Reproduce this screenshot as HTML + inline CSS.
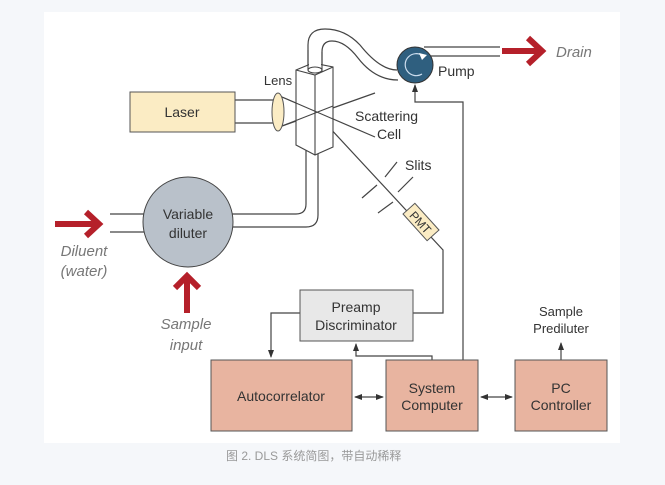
<!DOCTYPE html>
<html><head><meta charset="utf-8"><style>
html,body{margin:0;padding:0;background:#f5f7fa;}
svg{display:block;font-family:"Liberation Sans","Noto Sans CJK SC",sans-serif;}
</style></head><body>
<svg width="665" height="485" viewBox="0 0 665 485" xmlns="http://www.w3.org/2000/svg">
<defs>
<marker id="a" markerWidth="8" markerHeight="8" refX="7" refY="4" orient="auto" markerUnits="userSpaceOnUse"><path d="M0,1 L8,4 L0,7 Z" fill="#333"/></marker>
<marker id="b" markerWidth="8" markerHeight="8" refX="1" refY="4" orient="auto" markerUnits="userSpaceOnUse"><path d="M8,1 L0,4 L8,7 Z" fill="#333"/></marker>
</defs>
<rect x="0" y="0" width="665" height="485" fill="#f5f7fa"/>
<rect x="44" y="12" width="576" height="431" fill="#fff"/>
<g stroke="#444" stroke-width="1.2" fill="none">
<!-- tube top -->
<path d="M308,70 L308,45 Q308,29 325,29 Q345,29 360,45 Q380,70 397,70"/>
<path d="M322,72 L322,52 Q322,41 332,41 Q345,41 358,58 Q375,80 398,80"/>
<!-- drain tubes -->
<path d="M424,47 L500,47 M430,56 L500,56"/>
<!-- diluter tubes -->
<path d="M110,214 L146,214 M110,232 L146,232"/>
<path d="M232,214 L296,214 Q306,214 306,204 L306,150"/>
<path d="M232,227 L306,227 Q318,227 318,215 L318,152"/>
<!-- laser beam -->
<path d="M235,100 L275,100 M235,123 L275,123"/>
<!-- rays -->
<path d="M282,97 L375,137 M282,126 L375,93 M315,112 L443,250 L443,313 L413,313"/>
<!-- slits -->
<path d="M397,162 L385,177 M413,177 L398,192 M377,185 L362,198 M393,202 L378,213"/>
<!-- pump feedback -->
<path d="M463,360 L463,102 L415,102 L415,85" marker-end="url(#a)"/>
<!-- preamp to autocorrelator -->
<path d="M300,313 L271,313 L271,357" marker-end="url(#a)"/>
<path d="M432,360 L432,356 L356,356 L356,344" marker-end="url(#a)"/>
<path d="M355,397 L383,397" marker-start="url(#b)" marker-end="url(#a)"/>
<path d="M481,397 L512,397" marker-start="url(#b)" marker-end="url(#a)"/>
<path d="M561,360 L561,343" marker-end="url(#a)"/>
</g>
<!-- cell -->
<g stroke="#444" stroke-width="1.1" fill="#fff">
<polygon points="296,70 313,63 333,67 333,147 315,155 296,145"/>
<path d="M296,70 L315,75 L333,67 M315,75 L315,155" fill="none"/>
<rect x="309" y="50" width="12" height="22" stroke="none"/>
<path d="M308,70 L308,50 M322,72 L322,52" fill="none"/>
<ellipse cx="315" cy="70" rx="7" ry="3" fill="#fff"/>
</g>
<path d="M296,112 L333,112" stroke="none"/>
<line x1="282" y1="97" x2="333" y2="119" stroke="#444" stroke-width="1"/>
<line x1="282" y1="126" x2="333" y2="106" stroke="#444" stroke-width="1"/>
<!-- laser, lens -->
<rect x="130" y="92" width="105" height="40" fill="#fbecc4" stroke="#555"/>
<text x="182" y="117" font-size="14" fill="#333" text-anchor="middle">Laser</text>
<ellipse cx="278" cy="112" rx="6" ry="19" fill="#fbecc4" stroke="#555"/>
<text x="278" y="85" font-size="13" fill="#333" text-anchor="middle">Lens</text>
<text x="355" y="121" font-size="14" fill="#333">Scattering</text>
<text x="377" y="139" font-size="14" fill="#333">Cell</text>
<text x="405" y="170" font-size="14" fill="#333">Slits</text>
<!-- PMT -->
<g transform="translate(421,222) rotate(48)">
<rect x="-18" y="-8" width="36" height="16" fill="#fbecc4" stroke="#555"/>
<text x="0" y="5" font-size="12" fill="#333" text-anchor="middle">PMT</text>
</g>
<!-- pump -->
<circle cx="415" cy="65" r="18" fill="#2f5f7f" stroke="#333"/>
<path d="M423,56 A11,11 0 1 0 422,74" stroke="#cde" stroke-width="1.2" fill="none"/>
<path d="M419,53 L427,55 L422,60 Z" fill="#fff"/>
<text x="438" y="76" font-size="14" fill="#333">Pump</text>
<!-- drain -->
<path d="M502,51 L538,51" stroke="#b5202a" stroke-width="6"/>
<path d="M528,38 L542,51 L528,64" stroke="#b5202a" stroke-width="6" fill="none"/>
<text x="556" y="57" font-size="15" font-style="italic" fill="#777">Drain</text>
<!-- diluter -->
<circle cx="188" cy="222" r="45" fill="#b9c1ca" stroke="#444"/>
<text x="188" y="219" font-size="14" fill="#333" text-anchor="middle">Variable</text>
<text x="188" y="238" font-size="14" fill="#333" text-anchor="middle">diluter</text>
<path d="M55,224 L96,224" stroke="#b5202a" stroke-width="6"/>
<path d="M86,212 L99,224 L86,236" stroke="#b5202a" stroke-width="6" fill="none"/>
<text x="84" y="256" font-size="15" font-style="italic" fill="#777" text-anchor="middle">Diluent</text>
<text x="84" y="276" font-size="15" font-style="italic" fill="#777" text-anchor="middle">(water)</text>
<path d="M187,313 L187,278" stroke="#b5202a" stroke-width="6"/>
<path d="M175,288 L187,276 L199,288" stroke="#b5202a" stroke-width="6" fill="none"/>
<text x="186" y="329" font-size="15" font-style="italic" fill="#777" text-anchor="middle">Sample</text>
<text x="186" y="350" font-size="15" font-style="italic" fill="#777" text-anchor="middle">input</text>
<!-- preamp -->
<rect x="300" y="290" width="113" height="51" fill="#e8e8e8" stroke="#555"/>
<text x="356" y="312" font-size="14" fill="#333" text-anchor="middle">Preamp</text>
<text x="356" y="330" font-size="14" fill="#333" text-anchor="middle">Discriminator</text>
<!-- boxes -->
<rect x="211" y="360" width="141" height="71" fill="#e8b4a0" stroke="#555"/>
<text x="281" y="401" font-size="14" fill="#333" text-anchor="middle">Autocorrelator</text>
<rect x="386" y="360" width="92" height="71" fill="#e8b4a0" stroke="#555"/>
<text x="432" y="393" font-size="14" fill="#333" text-anchor="middle">System</text>
<text x="432" y="410" font-size="14" fill="#333" text-anchor="middle">Computer</text>
<rect x="515" y="360" width="92" height="71" fill="#e8b4a0" stroke="#555"/>
<text x="561" y="393" font-size="14" fill="#333" text-anchor="middle">PC</text>
<text x="561" y="410" font-size="14" fill="#333" text-anchor="middle">Controller</text>
<text x="561" y="316" font-size="13" fill="#333" text-anchor="middle">Sample</text>
<text x="561" y="333" font-size="13" fill="#333" text-anchor="middle">Prediluter</text>
<text x="226" y="460" font-size="12" fill="#999">图 2. DLS 系统简图，带自动稀释</text>
</svg>
</body></html>
